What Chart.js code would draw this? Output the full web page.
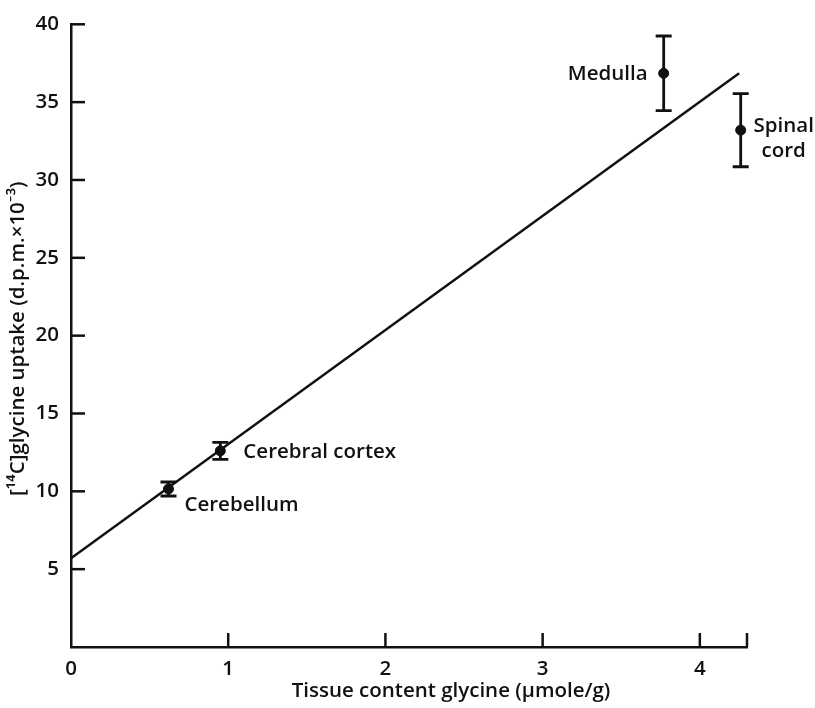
<!DOCTYPE html>
<html>
<head>
<meta charset="utf-8">
<script src="https://cdn.jsdelivr.net/npm/chart.js@4/dist/chart.umd.min.js"></script>
<style>
  html, body { margin: 0; padding: 0; background: #fff; }
  #wrap { width: 815px; height: 708px; position: relative; }
</style>
</head>
<body>
<div id="wrap"><canvas id="chart"></canvas></div>
<script>
// values
const tissues = ['Cerebellum', 'Cerebral cortex', 'Medulla', 'Spinal cord'];
const glycineContent = [0.62, 0.95, 3.77, 4.26];   // µmole/g
const glycineUptake = [10.15, 12.6, 36.85, 33.2];  // d.p.m. x 10^-3
const uptakeError = [0.45, 0.55, 2.4, 2.35];

// regression line end points
const fitX = [0, 4.25];
const fitY = [5.7, 36.85];

const xTickValues = [0, 1, 2, 3, 4, 4.3];   // 4.3 = unlabelled end tick
const yTickValues = [0, 5, 10, 15, 20, 25, 30, 35, 40];

const xTitle = 'Tissue content glycine (\u00b5mole/g)';
const yTitle = '[\u00b9\u2074C]glycine uptake (d.p.m.\u00d710\u207b\u00b3)';

const ink = '#111';
const fontFamily = '"Open Sans", Lato, sans-serif';
const fontWeight = '600';
const fontSize = 20.5;
const tickLen = 14;

// label placement relative to each point (pixels)
const labelLines = [['Cerebellum'], ['Cerebral cortex'], ['Medulla'], ['Spinal', 'cord']];
const labelAlign = ['left', 'left', 'right', 'center'];
const labelDx = [16, 23, -16, 43];
const labelDy = [22, 7, 7, 2];

const extras = {
  id: 'extras',
  afterDatasetsDraw(chart) {
    const { ctx, chartArea, scales: { x, y } } = chart;
    ctx.save();
    ctx.strokeStyle = ink;
    ctx.fillStyle = ink;
    ctx.lineWidth = 2.5;
    ctx.lineCap = 'butt';

    // tick marks pointing into the plot
    x.ticks.forEach(t => {
      if (t.value === 0) return;
      const px = x.getPixelForValue(t.value);
      ctx.beginPath();
      ctx.moveTo(px, chartArea.bottom);
      ctx.lineTo(px, chartArea.bottom - tickLen);
      ctx.stroke();
    });
    y.ticks.forEach(t => {
      if (t.value === 0) return;
      const py = y.getPixelForValue(t.value);
      ctx.beginPath();
      ctx.moveTo(chartArea.left, py);
      ctx.lineTo(chartArea.left + tickLen, py);
      ctx.stroke();
    });

    // error bars
    ctx.lineWidth = 2.8;
    glycineContent.forEach((gx, i) => {
      const px = x.getPixelForValue(gx);
      const top = y.getPixelForValue(glycineUptake[i] + uptakeError[i]);
      const bot = y.getPixelForValue(glycineUptake[i] - uptakeError[i]);
      ctx.beginPath();
      ctx.moveTo(px, top); ctx.lineTo(px, bot);
      ctx.moveTo(px - 8, top); ctx.lineTo(px + 8, top);
      ctx.moveTo(px - 8, bot); ctx.lineTo(px + 8, bot);
      ctx.stroke();
    });

    // point labels
    ctx.font = fontWeight + ' ' + fontSize + 'px ' + fontFamily;
    ctx.textBaseline = 'alphabetic';
    glycineContent.forEach((gx, i) => {
      const px = x.getPixelForValue(gx);
      const py = y.getPixelForValue(glycineUptake[i]);
      ctx.textAlign = labelAlign[i];
      labelLines[i].forEach((line, k) => {
        ctx.fillText(line, px + labelDx[i], py + labelDy[i] + k * 25);
      });
    });

    // axis titles
    ctx.textAlign = 'center';
    ctx.textBaseline = 'middle';
    ctx.fillText(xTitle, (chartArea.left + chartArea.right) / 2 + 42, 691);
    ctx.translate(18, (chartArea.top + chartArea.bottom) / 2 + 3);
    ctx.rotate(-Math.PI / 2);
    ctx.fillText(yTitle, 0, 0);
    ctx.restore();
  }
};

const tickFont = { family: fontFamily, size: fontSize, weight: fontWeight };

new Chart(document.getElementById('chart'), {
  type: 'scatter',
  data: {
    datasets: [
      {
        label: 'Regression',
        data: fitX.map((v, i) => ({ x: v, y: fitY[i] })),
        showLine: true,
        borderColor: ink,
        borderWidth: 2.5,
        pointRadius: 0,
        fill: false
      },
      {
        label: 'Tissues',
        data: glycineContent.map((v, i) => ({ x: v, y: glycineUptake[i] })),
        backgroundColor: ink,
        borderColor: ink,
        pointRadius: 5,
        pointHoverRadius: 5
      }
    ]
  },
  options: {
    responsive: true,
    maintainAspectRatio: false,
    animation: false,
    layout: { padding: { top: 19, right: 68, left: 0, bottom: 0 } },
    plugins: { legend: { display: false }, tooltip: { enabled: false } },
    scales: {
      x: {
        type: 'linear',
        min: 0,
        max: 4.3,
        afterBuildTicks: s => { s.ticks = xTickValues.map(v => ({ value: v })); },
        afterFit: s => { s.height = 61; },
        grid: { display: false, drawTicks: false },
        border: { display: true, color: ink, width: 2.5 },
        ticks: {
          autoSkip: false,
          maxRotation: 0,
          padding: 10,
          color: ink,
          font: tickFont,
          callback: v => Number.isInteger(v) ? String(v) : ''
        }
      },
      y: {
        type: 'linear',
        min: 0,
        max: 40,
        afterBuildTicks: s => { s.ticks = yTickValues.map(v => ({ value: v })); },
        afterFit: s => { s.width = 71; },
        grid: { display: false, drawTicks: false },
        border: { display: true, color: ink, width: 2.5 },
        ticks: {
          autoSkip: false,
          padding: 12,
          color: ink,
          font: tickFont,
          callback: v => v === 0 ? '' : String(v)
        }
      }
    }
  },
  plugins: [extras]
});
</script>
</body>
</html>
